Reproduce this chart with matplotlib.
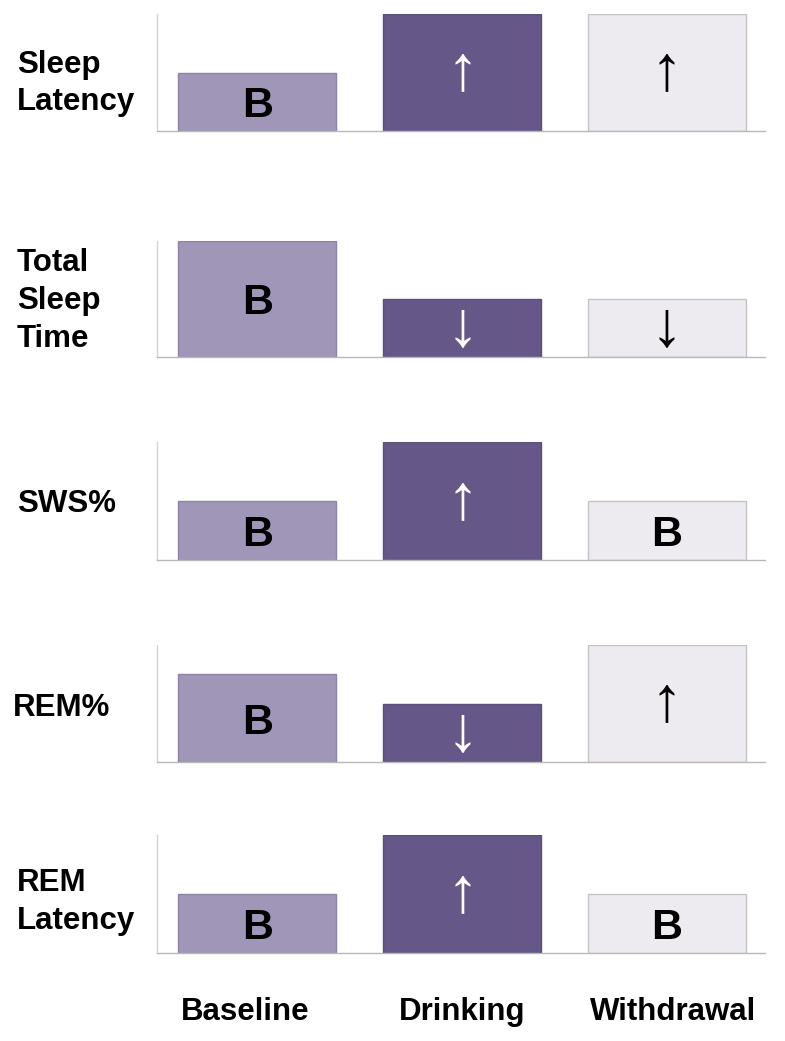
import matplotlib.pyplot as plt
import numpy as np

measures = ['Sleep\nLatency', 'Total\nSleep\nTime', 'SWS%', 'REM%', 'REM\nLatency']
conditions = ['Baseline', 'Drinking', 'Withdrawal']

# relative bar heights per condition, one value per measure
baseline = [2, 4, 2, 3, 2]
drinking = [4, 2, 4, 2, 4]
withdrawal = [4, 2, 2, 4, 2]

# symbol written inside each bar
baseline_marks = ['B', 'B', 'B', 'B', 'B']
drinking_marks = ['↑', '↓', '↑', '↓', '↑']
withdrawal_marks = ['↑', '↓', 'B', '↑', 'B']

colores = ['#a097b8', '#655889', '#edebf0']
bordes = ['#8c83a6', '#5a4f7d', '#c4c4c8']
color_texto = ['black', 'white', 'black']

plt.rcParams['font.family'] = ['Liberation Sans', 'DejaVu Sans']

fig = plt.figure(figsize=(7.85, 10.41), dpi=100)

# (top, bottom) of each panel in pixels
filas_px = [(14, 131), (241, 357), (442, 560), (645, 762), (835, 953)]
# small nudges of the row labels (x, y) in pixels
ajuste_etiqueta = [(17, 11), (17, 2), (17, 3), (13, 4), (17, 8)]
alto_fig = 1041
x = np.arange(len(conditions))
ancho = 0.77
desplaz_ticks = [-0.06, 0.0, 0.03]

for i, medida in enumerate(measures):
    arriba, abajo = filas_px[i]
    ax = fig.add_axes([157 / 785, 1 - abajo / alto_fig, 608 / 785, (abajo - arriba) / alto_fig])
    valores = [baseline[i], drinking[i], withdrawal[i]]
    marcas = [baseline_marks[i], drinking_marks[i], withdrawal_marks[i]]
    barras = ax.bar(x, valores, ancho, color=colores, edgecolor=bordes, linewidth=1)
    for b, marca, ct in zip(barras, marcas, color_texto):
        cx = b.get_x() + b.get_width() / 2
        cy = b.get_height() / 2
        if marca == 'B':
            ax.text(cx, cy, marca, ha='center', va='center_baseline', fontsize=31,
                    fontweight='bold', color=ct)
        else:
            ax.text(cx, cy, marca, ha='center', va='center', fontsize=46,
                    color=ct)
    ax.set_xlim(-0.49, 2.48)
    ax.set_ylim(0, 4)
    ax.set_yticks([])
    for lado in ['top', 'right']:
        ax.spines[lado].set_visible(False)
    ax.spines['left'].set_color('#d4d4d4')
    ax.spines['bottom'].set_color('#b8b8b8')
    ax.spines['left'].set_linewidth(1)
    ax.spines['bottom'].set_linewidth(1)
    if i == len(measures) - 1:
        ax.set_xticks(x + np.array(desplaz_ticks))
        ax.set_xticklabels(conditions, fontsize=22.5, fontweight='bold')
        ax.tick_params(axis='x', length=0, pad=32)
    else:
        ax.set_xticks([])
    dx, dy = ajuste_etiqueta[i]
    fig.text(dx / 785, 1 - ((arriba + abajo) / 2 + dy) / alto_fig, medida, ha='left',
             va='center', fontsize=22.5, fontweight='bold', linespacing=1.33)

plt.savefig('out.png', dpi=100)
